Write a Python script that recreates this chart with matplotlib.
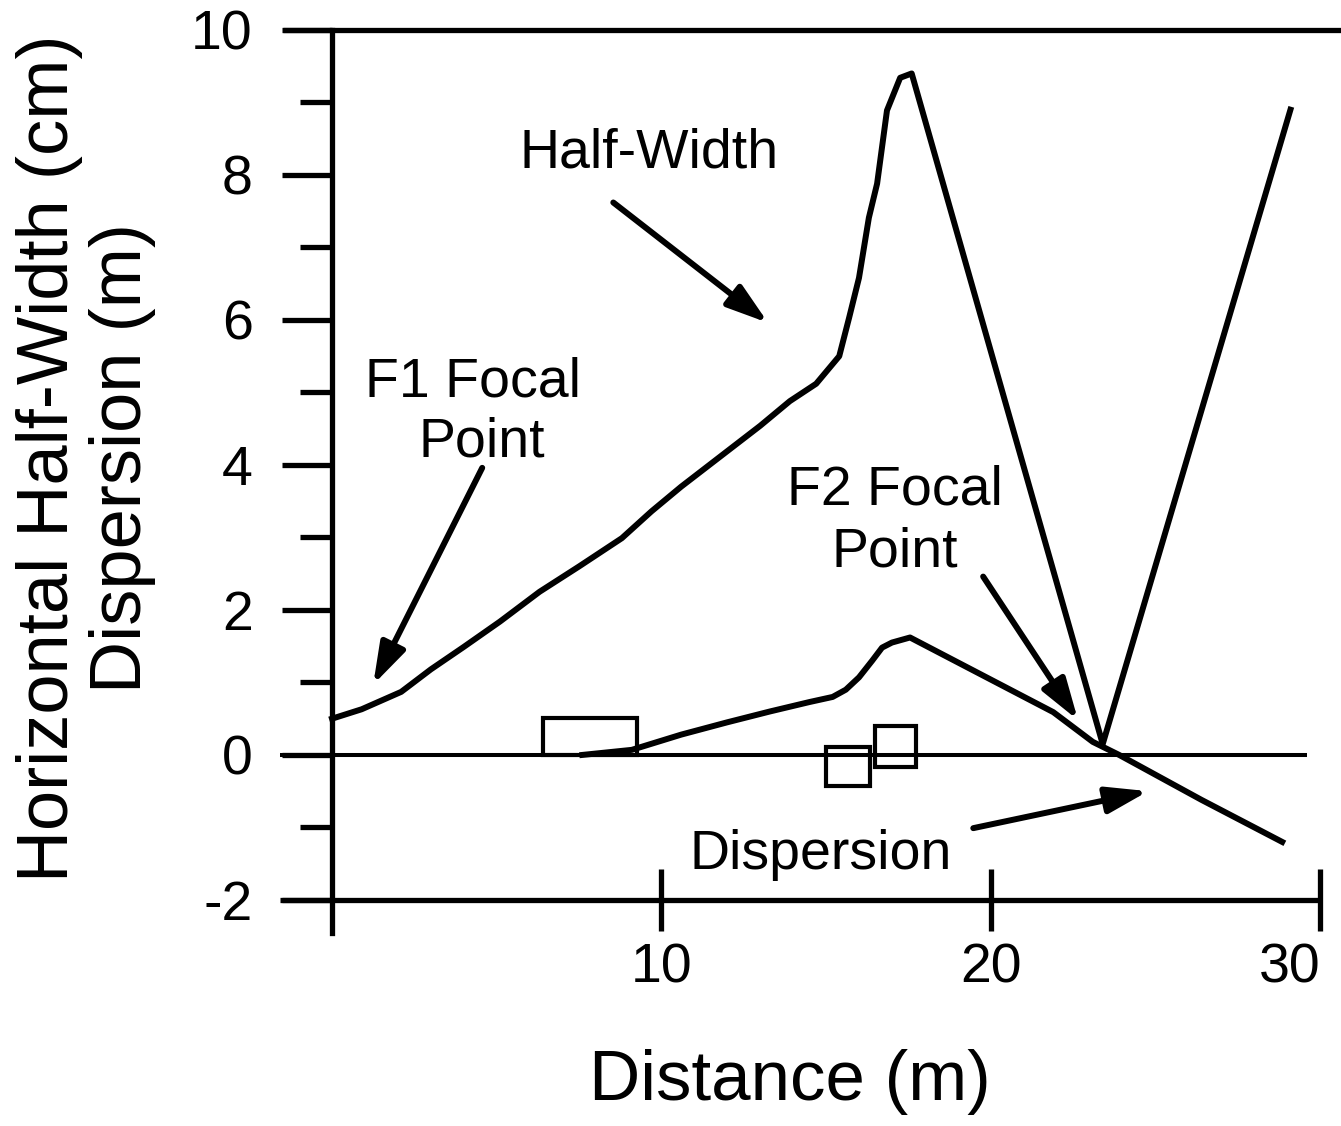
import matplotlib
matplotlib.use("Agg")
import matplotlib.pyplot as plt
from matplotlib.patches import Rectangle

plt.rcParams['font.family'] = ['Liberation Sans', 'DejaVu Sans']
plt.rcParams['axes.unicode_minus'] = False

# half-width curve (cm)
half_x = [0.0, 0.9, 2.1, 3.0, 4.0, 5.1, 6.3, 7.5, 8.8, 9.7, 10.6, 11.8, 13.0, 13.9,
          14.7, 15.4, 15.7, 16.0, 16.3, 16.55, 16.85, 17.25, 17.6, 23.4, 29.1]
half_y = [0.5, 0.63, 0.87, 1.18, 1.49, 1.84, 2.25, 2.6, 2.99, 3.36, 3.7, 4.12, 4.54, 4.88,
          5.12, 5.5, 6.03, 6.58, 7.41, 7.88, 8.89, 9.34, 9.40, 0.15, 8.9]

# dispersion curve (m)
disp_x = [7.6, 9.1, 10.6, 12.0, 13.3, 14.5, 15.2, 15.6, 16.0, 16.4, 16.7, 17.0, 17.55,
          21.9, 23.1, 23.9, 26.4, 28.85]
disp_y = [0.0, 0.07, 0.28, 0.45, 0.6, 0.73, 0.8, 0.9, 1.07, 1.3, 1.48, 1.55, 1.62,
          0.59, 0.18, 0.0, -0.62, -1.2]

# boxes
box_left = [6.4, 15.0, 16.5]
box_right = [9.26, 16.34, 17.72]
box_bottom = [0.0, -0.43, -0.16]
box_top = [0.51, 0.11, 0.40]

x_ticks = [10, 20, 30]
y_ticks = [-2, 0, 2, 4, 6, 8, 10]
y_minor = [-1, 1, 3, 5, 7, 9]

LW = 3.8      # frame
CLW = 4.3     # curves
FS = 40

fig = plt.figure(figsize=(13.41, 11.26), dpi=100)
ax = fig.add_axes([0.2476, 0.1718, 0.7368, 0.8016])
ax.set_xlim(0, 30)
ax.set_ylim(-2.45, 10)

for s in ['top', 'right']:
    ax.spines[s].set_visible(False)
ax.spines['left'].set_linewidth(LW)
ax.spines['bottom'].set_position(('data', -2))
ax.spines['bottom'].set_color('none')

ax.set_xticks(x_ticks)
ax.set_yticks(y_ticks)
ax.set_yticks(y_minor, minor=True)
ax.tick_params(axis='x', direction='inout', length=44.6, width=LW, pad=8,
               labelsize=FS, color='black')
ax.tick_params(axis='y', which='major', direction='out', length=36, width=LW,
               pad=21, labelsize=FS)
ax.tick_params(axis='y', which='minor', direction='out', length=23, width=LW)
ax.get_xticklabels()[-1].set_horizontalalignment('right')

# frame lines
ax.hlines(10, -1.49, 30.64, color='black', lw=LW, clip_on=False)
ax.hlines(0, -1.58, 29.6, color='black', lw=2.9, clip_on=False)
ax.hlines(-2, -1.58, 30.0, color='black', lw=LW, clip_on=False)

ax.plot(half_x, half_y, color='black', lw=CLW, solid_joinstyle='round', clip_on=False)
ax.plot(disp_x, disp_y, color='black', lw=CLW, solid_joinstyle='round', clip_on=False)

for x0, x1, y0, y1 in zip(box_left, box_right, box_bottom, box_top):
    ax.add_patch(Rectangle((x0, y0), x1 - x0, y1 - y0, fill=False,
                           edgecolor='black', lw=3.0))

arrow = dict(arrowstyle='-|>,head_length=1.25,head_width=0.4', lw=CLW,
             color='black', shrinkA=0, shrinkB=0, mutation_scale=20)

ax.text(9.64, 8.105, 'Half-Width', fontsize=FS, ha='center', va='baseline')
ax.annotate('', xy=(13.24, 5.96), xytext=(8.54, 7.62), arrowprops=arrow)

ax.text(4.28, 4.95, 'F1 Focal', fontsize=FS, ha='center', va='baseline')
ax.text(4.56, 4.12, 'Point', fontsize=FS, ha='center', va='baseline')
ax.annotate('', xy=(1.25, 0.97), xytext=(4.56, 3.96), arrowprops=arrow)

ax.text(17.1, 3.46, 'F2 Focal', fontsize=FS, ha='center', va='baseline')
ax.text(17.1, 2.6, 'Point', fontsize=FS, ha='center', va='baseline')
ax.annotate('', xy=(22.65, 0.48), xytext=(19.77, 2.46), arrowprops=arrow)

ax.text(14.85, -1.58, 'Dispersion', fontsize=FS, ha='center', va='baseline')
ax.annotate('', xy=(24.78, -0.50), xytext=(19.47, -1.01), arrowprops=arrow)

fig.text(86 / 1341, 1 - 458 / 1126, 'Horizontal Half-Width (cm)\nDispersion (m)',
         rotation=90, ha='center', va='center', multialignment='center',
         fontsize=52, linespacing=1.1)
fig.text(790 / 1341, 1 - 1100 / 1126, 'Distance (m)', fontsize=51,
         ha='center', va='baseline')

fig.savefig('out.png', dpi=100)
